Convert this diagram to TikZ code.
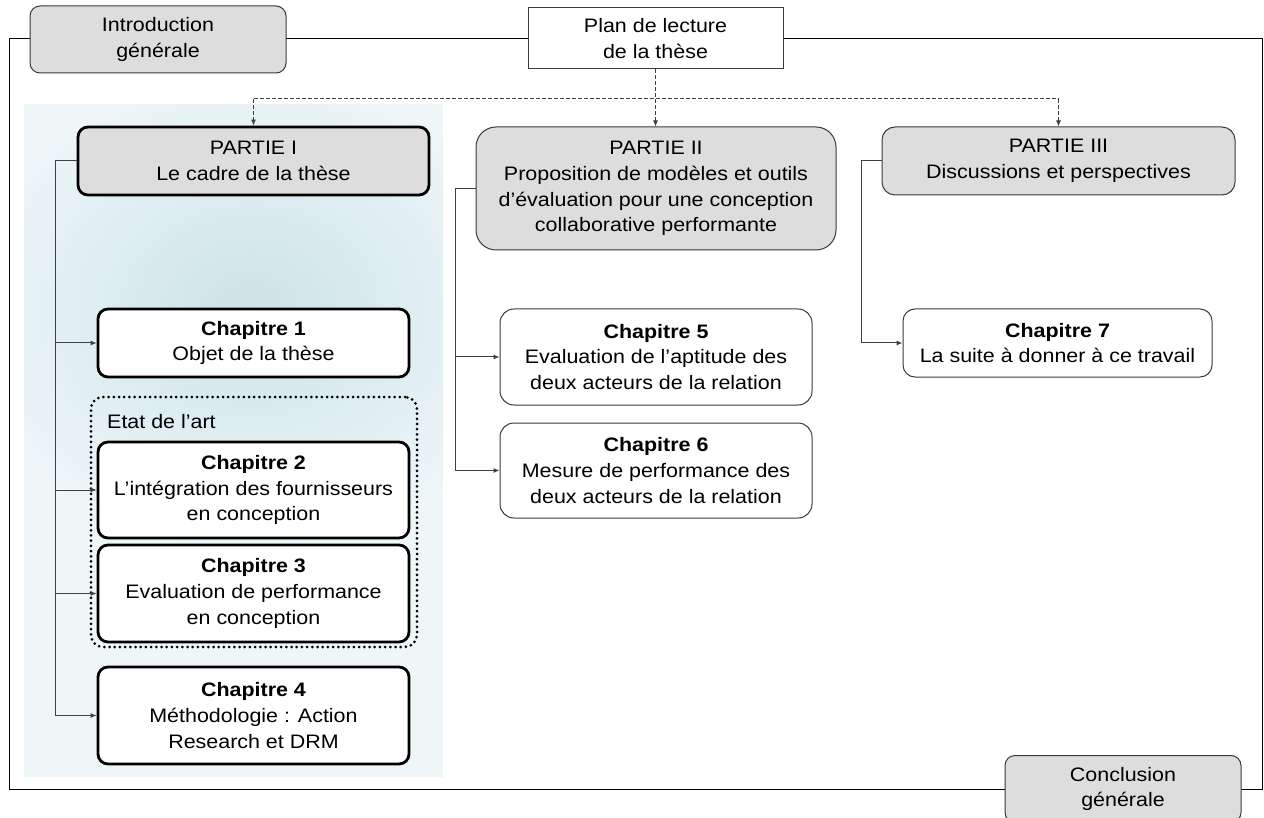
\documentclass[tikz,border=0pt]{standalone}
\usepackage{fontspec}
\setmainfont{Liberation Sans}[FakeStretch=1.1]
\usetikzlibrary{arrows.meta}
\definecolor{boxgray}{HTML}{DDDDDD}
\definecolor{edgegray}{HTML}{3A3A3A}
\definecolor{linegray}{HTML}{404040}
\definecolor{panelbg}{HTML}{EEF6F8}
\definecolor{panelglow}{HTML}{CCE3E8}
\begin{document}
\begin{tikzpicture}[x=1pt,y=-1pt,
  font=\fontsize{19.5}{25.7}\selectfont,
  base/.style={align=center, inner sep=0pt, text=black},
  graybox/.style={base, draw=edgegray, line width=1pt, fill=boxgray, rounded corners=10pt},
  thickbox/.style={base, draw=black, line width=2.8pt, fill=white, rounded corners=10pt},
  thinbox/.style={base, draw=edgegray, line width=1pt, fill=white, rounded corners=14pt},
  dotbox/.style={draw=black, line width=3pt, dash pattern=on 0pt off 5.2pt, line cap=round, rounded corners=12pt, inner sep=0pt},
  conn/.style={draw=linegray, line width=1pt},
  arr/.style={conn, -{Latex[length=6pt,width=5pt]}},
  dconn/.style={conn, dash pattern=on 4pt off 2pt},
  darr/.style={dconn, -{Latex[length=6pt,width=5pt]}}]
\useasboundingbox (0,0) rectangle (1264,818);
\clip (0,0) rectangle (1264,818);
% panel
\begin{scope}
  \clip (24,105) rectangle (443,777);
  \fill[panelbg] (24,105) rectangle (443,777);
  \shade[inner color=panelglow, outer color=panelbg] (-40,70) rectangle (540,550);
\end{scope}
% frame
\draw[black, line width=1pt] (9,39) rectangle (1262,789);
% nodes
\node[graybox, minimum width=256pt, minimum height=67pt] (intro) at (158,39.5) {Introduction\\générale};
\node[base, draw=edgegray, line width=1pt, fill=white, minimum width=255pt, minimum height=61pt] (plan) at (655.5,38.5) {Plan de lecture\\de la thèse};
\node[graybox, draw=black, line width=2.8pt, minimum width=351pt, minimum height=68pt] (p1) at (253.5,161) {PARTIE I\\Le cadre de la thèse};
\node[graybox, rounded corners=20pt, minimum width=360pt, minimum height=123pt] (p2) at (656,188.5) {PARTIE II\\Proposition de modèles et outils\\d’évaluation pour une conception\\collaborative performante};
\node[graybox, rounded corners=13pt, minimum width=353pt, minimum height=68pt] (p3) at (1058.5,161) {PARTIE III\\Discussions et perspectives};
\node[graybox, minimum width=236pt, minimum height=67pt] (concl) at (1123,789) {Conclusion\\générale};
\node[thickbox, minimum width=311pt, minimum height=68pt] (c1) at (253.5,343) {\textbf{Chapitre 1}\\Objet de la thèse};
\node[dotbox, minimum width=326pt, minimum height=250pt] (sota) at (254,522) {};
\node[base, anchor=base west] (etat) at (107,428) {Etat de l’art};
\node[thickbox, minimum width=311pt, minimum height=96pt] (c2) at (253.5,490) {\textbf{Chapitre 2}\\L’intégration des fournisseurs\\en conception};
\node[thickbox, minimum width=311pt, minimum height=97pt] (c3) at (253.5,593.5) {\textbf{Chapitre 3}\\Evaluation de performance\\en conception};
\node[thickbox, minimum width=311pt, minimum height=97pt] (c4) at (253.5,715.5) {\textbf{Chapitre 4}\\Méthodologie~: Action\\Research et DRM};
\node[thinbox, minimum width=312pt, minimum height=96pt] (c5) at (656,357) {\textbf{Chapitre 5}\\Evaluation de l’aptitude des\\deux acteurs de la relation};
\node[thinbox, minimum width=312pt, minimum height=95pt] (c6) at (656,470.5) {\textbf{Chapitre 6}\\Mesure de performance des\\deux acteurs de la relation};
\node[thinbox, rounded corners=12pt, minimum width=309pt, minimum height=68pt] (c7) at (1057.5,343) {\textbf{Chapitre 7}\\La suite à donner à ce travail};
% dashed distribution
\coordinate (dl) at (253.5,99);
\coordinate (dr) at (1058.5,99);
\draw[darr] (plan.south) -- (plan.south |- p2.north);
\draw[dconn] (dl) -- (dr);
\draw[darr] (dl) -- (p1.north);
\draw[darr] (dr) -- (p3.north);
% part I branches
\coordinate (b1) at (55,161);
\draw[arr] (p1.west) -- (b1) |- (c4.west);
\draw[arr] (b1 |- c1.west) -- (c1.west);
\draw[arr] (b1 |- c2.west) -- (c2.west);
\draw[arr] (b1 |- c3.west) -- (c3.west);
% part II branches
\coordinate (b2) at (455,188.5);
\draw[arr] (p2.west) -- (b2) |- (c6.west);
\draw[arr] (b2 |- c5.west) -- (c5.west);
% part III branch
\coordinate (b3) at (861,161);
\draw[arr] (p3.west) -- (b3) |- (c7.west);
\end{tikzpicture}
\end{document}
